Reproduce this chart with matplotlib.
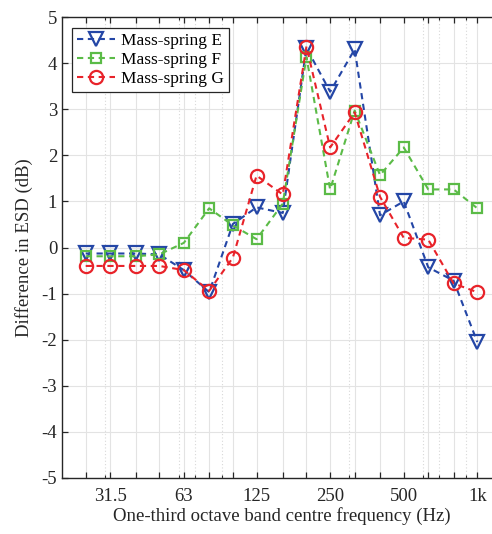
import numpy as np
import matplotlib
matplotlib.use("Agg")
import matplotlib.pyplot as plt
from matplotlib.ticker import FixedLocator, NullFormatter

plt.rcParams['font.family'] = ['Liberation Serif', 'DejaVu Serif']
plt.rcParams['axes.unicode_minus'] = False

freqs = [25, 31.5, 40, 50, 63, 80, 100, 125, 160, 200, 250, 315, 400, 500, 630, 800, 1000]
tick_freqs = [31.5, 63, 125, 250, 500, 1000]
tick_labels = ['31.5', '63', '125', '250', '500', '1k']
minor_freqs = [30, 60, 70, 90, 300, 600, 700, 900]

E = [-0.13, -0.13, -0.13, -0.15, -0.49, -0.97, 0.51, 0.87, 0.75, 4.33, 3.38, 4.30, 0.70, 1.00, -0.43, -0.72, -2.05]
F = [-0.19, -0.19, -0.19, -0.15, 0.10, 0.85, 0.48, 0.18, 0.95, 4.13, 1.26, 2.97, 1.57, 2.17, 1.26, 1.26, 0.85]
G = [-0.40, -0.40, -0.40, -0.40, -0.49, -0.94, -0.22, 1.56, 1.15, 4.36, 2.17, 2.93, 1.10, 0.21, 0.17, -0.78, -0.97]

fig = plt.figure(figsize=(4.92, 5.34), dpi=100)
W, H = 492, 534
left, right, top, bottom = 62, 501, 17, 478
ax = fig.add_axes([left / W, 1 - bottom / H, (right - left) / W, (bottom - top) / H])

blue = '#2446A6'
green = '#5BBB47'
red = '#E8232A'

ax.plot(freqs, E, ls='--', color=blue, lw=1.5, marker='v', ms=10, mfc='none', mew=1.6, label='Mass-spring E', dashes=(3, 2.2))
ax.plot(freqs, F, ls='--', color=green, lw=1.5, marker='s', ms=7.5, mfc='none', mew=1.6, label='Mass-spring F', dashes=(3, 2.2))
ax.plot(freqs, G, ls='--', color=red, lw=1.5, marker='o', ms=9.5, mfc='none', mew=1.6, label='Mass-spring G', dashes=(3, 2.2))

ax.set_xscale('log')
ax.set_xlim(20, 1250)
ax.set_ylim(-5, 5)
ax.set_yticks(np.arange(-5, 6, 1))
ax.xaxis.set_major_locator(FixedLocator(freqs))
ax.set_xticklabels([tick_labels[tick_freqs.index(f)] if f in tick_freqs else '' for f in freqs])
ax.xaxis.set_minor_locator(FixedLocator(minor_freqs))
ax.xaxis.set_minor_formatter(NullFormatter())

ax.grid(True, which='major', color='#e3e3e3', lw=0.8, ls='-')
ax.grid(True, which='minor', axis='x', color='#d8d8d8', lw=0.8, ls=(0, (1, 2)))
ax.set_axisbelow(True)

ax.tick_params(which='both', direction='in', top=True, right=True, colors='#262626', labelsize=13.5, labelcolor='#262626')
ax.tick_params(which='major', length=4, width=0.9)
ax.tick_params(which='minor', length=2.5, width=0.8)
ax.tick_params(axis='x', pad=7)
for s in ax.spines.values():
    s.set_color('#262626')
    s.set_linewidth(1.0)

ax.set_xlabel('One-third octave band centre frequency (Hz)', fontsize=13.5, color='#262626', labelpad=2)
ax.set_ylabel('Difference in ESD (dB)', fontsize=13.5, color='#262626', labelpad=6)

leg = ax.legend(loc='upper left', bbox_to_anchor=((72 - left) / (right - left), 1 - (28 - top) / (bottom - top)),
                fontsize=12.5, frameon=True, fancybox=False, edgecolor='#262626', framealpha=1,
                borderpad=0.3, labelspacing=0.15, handlelength=2.2, handletextpad=0.3, borderaxespad=0)
leg.get_frame().set_linewidth(0.9)

fig.savefig('out.png', dpi=100)
